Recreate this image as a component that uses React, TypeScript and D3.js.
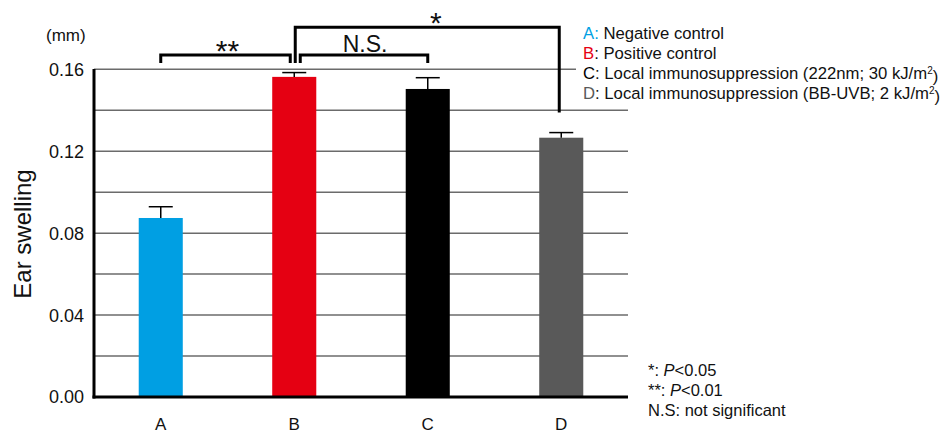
import { FC } from 'react';
import * as d3 from 'd3';

const categories = ['A', 'B', 'C', 'D'];
const means = [0.0874, 0.1563, 0.1504, 0.1266];
const errors = [0.0055, 0.0021, 0.0055, 0.0025];
const barColors = ['#009fe3', '#e50012', '#000000', '#595959'];
const yTicks = [0, 0.04, 0.08, 0.12, 0.16];
const gridValues = [0.02, 0.04, 0.06, 0.08, 0.1, 0.12, 0.14, 0.16];

const legendLetters = ['A:', 'B:', 'C:', 'D:'];
const legendTexts = [
  'Negative control',
  'Positive control',
  'Local immunosuppression (222nm; 30 kJ/m',
  'Local immunosuppression (BB-UVB; 2 kJ/m',
];
const legendSup = ['', '', '2', '2'];

const notes = [
  { mark: '*: ', p: 'P', rest: '<0.05' },
  { mark: '**: ', p: 'P', rest: '<0.01' },
  { mark: 'N.S: not significant', p: '', rest: '' },
];

const FONT = '"Liberation Sans", Arial, Helvetica, sans-serif';
const width = 945;
const height = 434;
const left = 94;
const right = 628;
const bottom = 397;

const App: FC = () => {
  const x = d3
    .scaleBand<string>()
    .domain(categories)
    .range([left, right])
    .paddingInner(0.67)
    .paddingOuter(0.335);
  const y = d3.scaleLinear().domain([0, 0.16]).range([bottom, 69.3]);
  const cx = (c: string) => (x(c) ?? 0) + x.bandwidth() / 2;
  const capW = 24;

  // comparison brackets
  const bLevel = y(0.167);
  const bLeg = bLevel + 8;
  const bx = cx('B');
  const starTop = y(0.1805);
  const dErrTop = y(means[3] + errors[3]);

  return (
    <svg
      width={width}
      height={height}
      style={{ position: 'absolute', left: 0, top: 0, fontFamily: FONT }}
    >
      <rect width={width} height={height} fill="#fff" />

      {gridValues.map((v) => (
        <line
          key={v}
          x1={left}
          x2={v === 0.16 ? 576 : right}
          y1={y(v)}
          y2={y(v)}
          stroke="#6b6b6b"
          strokeWidth={1.5}
        />
      ))}

      {categories.map((c, i) => (
        <g key={c}>
          <rect
            x={x(c)}
            y={y(means[i])}
            width={x.bandwidth()}
            height={bottom - y(means[i])}
            fill={barColors[i]}
          />
          <line
            x1={cx(c)}
            x2={cx(c)}
            y1={y(means[i])}
            y2={y(means[i] + errors[i])}
            stroke="#000"
            strokeWidth={1.5}
          />
          <line
            x1={cx(c) - capW / 2}
            x2={cx(c) + capW / 2}
            y1={y(means[i] + errors[i])}
            y2={y(means[i] + errors[i])}
            stroke="#000"
            strokeWidth={1.5}
          />
          <text
            x={cx(c)}
            y={430}
            textAnchor="middle"
            fontSize={17}
            fill="#111"
          >
            {c}
          </text>
        </g>
      ))}

      <line x1={left} x2={left} y1={69} y2={bottom + 1.5} stroke="#000" strokeWidth={3} />
      <line x1={left - 1.5} x2={right} y1={bottom} y2={bottom} stroke="#000" strokeWidth={3} />

      {yTicks.map((t) => (
        <text
          key={t}
          x={84}
          y={y(t)}
          dy="0.36em"
          textAnchor="end"
          fontSize={18}
          fill="#111"
        >
          {d3.format('.2f')(t)}
        </text>
      ))}
      <text x={46} y={41} fontSize={17} fill="#111">
        (mm)
      </text>
      <text
        transform={`translate(31, 234) rotate(-90)`}
        textAnchor="middle"
        fontSize={24}
        fill="#111"
      >
        Ear swelling
      </text>

      {/* ** : A vs B */}
      <path
        d={`M${cx('A')},${bLeg}V${bLevel}H${bx - 4}V${bLeg}`}
        fill="none"
        stroke="#000"
        strokeWidth={3}
      />
      <text x={(cx('A') + bx) / 2} y={bLevel + 6} textAnchor="middle" fontSize={30} fill="#111">
        **
      </text>
      {/* N.S. : B vs C */}
      <path
        d={`M${bx + 6},${bLeg}V${bLevel}H${cx('C')}V${bLeg}`}
        fill="none"
        stroke="#000"
        strokeWidth={3}
      />
      <text x={(bx + cx('C')) / 2 + 4} y={bLevel - 3} textAnchor="middle" fontSize={23} fill="#111">
        N.S.
      </text>
      {/* * : B vs D */}
      <path
        d={`M${bx + 1},${bLeg}V${starTop}H${cx('D') - 2}V${dErrTop - 20}`}
        fill="none"
        stroke="#000"
        strokeWidth={3}
      />
      <text x={(bx + cx('D')) / 2 + 8} y={starTop + 6} textAnchor="middle" fontSize={30} fill="#111">
        *
      </text>

      {legendTexts.map((t, i) => (
        <text key={t} x={583} y={33 + i * 20} dy="0.36em" fontSize={16.7} fill="#111">
          <tspan fill={barColors[i]}>{legendLetters[i].slice(0, 1)}</tspan>
          <tspan fill={i === 0 ? barColors[0] : '#111'}>{legendLetters[i].slice(1)}</tspan>
          <tspan> {t}</tspan>
          {legendSup[i] && (
            <tspan fontSize={10} dy="-0.5em">
              {legendSup[i]}
            </tspan>
          )}
          {legendSup[i] ? <tspan dy="0.5em">)</tspan> : null}
        </text>
      ))}

      {notes.map((n, i) => (
        <text key={n.mark} x={648} y={370 + i * 20} dy="0.36em" fontSize={16.5} fill="#111">
          {n.mark}
          {n.p && <tspan fontStyle="italic">{n.p}</tspan>}
          {n.rest}
        </text>
      ))}
    </svg>
  );
};

export default App;
